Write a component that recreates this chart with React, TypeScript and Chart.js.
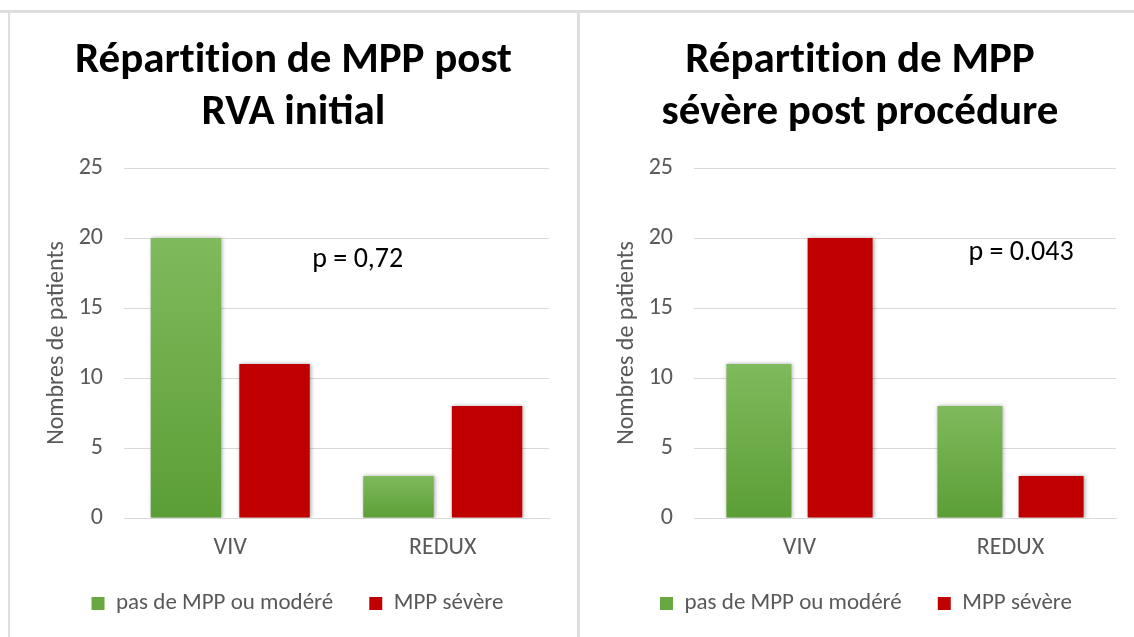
import React, { useEffect, useRef } from "react";
import { Chart, registerables } from "chart.js";

Chart.register(...registerables);

// ---- data ----
const categories = ["VIV", "REDUX"];
const seriesNames = ["pas de MPP ou modéré", "MPP sévère"];
const ZWNJ = "\u200C";
const leftTitle = [`Répar${ZWNJ}t${ZWNJ}it${ZWNJ}ion de MPP post`, "RVA initial"];
const rightTitle = [`Répar${ZWNJ}t${ZWNJ}it${ZWNJ}ion de MPP`, "sévère post procédure"];
const leftNoneOrModerate = [20, 3];
const leftSevere = [11, 8];
const rightNoneOrModerate = [11, 8];
const rightSevere = [20, 3];
const yAxisTitle = "Nombres de patients";
const yMax = 25;
const yStep = 5;
const pValueLeft = "p = 0,72";
const pValueRight = "p = 0.043";
const pPosLeft = [0.6, 18.4];
const pPosRight = [1.05, 18.9];

const FONT = "Carlito, Lato, sans-serif";
const TEXT_GRAY = "#595959";
const GREEN_TOP = "#7fba5c";
const GREEN_BOTTOM = "#5c9e36";
const RED = "#c00000";

function greenFill(ctx: any) {
  const chart = ctx.chart;
  const scales = chart.scales;
  if (!chart.chartArea || !scales || !scales.y || ctx.parsed == null) return GREEN_TOP;
  const top = scales.y.getPixelForValue(ctx.parsed.y);
  const base = scales.y.getPixelForValue(0);
  if (!isFinite(top) || !isFinite(base) || top === base) return GREEN_TOP;
  const g = chart.ctx.createLinearGradient(0, top, 0, base);
  g.addColorStop(0, GREEN_TOP);
  g.addColorStop(1, GREEN_BOTTOM);
  return g;
}

const shadowPlugin = {
  id: "barShadow",
  beforeDatasetsDraw(chart: any) {
    const c = chart.ctx;
    c.save();
    c.shadowColor = "rgba(0,0,0,0.35)";
    c.shadowBlur = 4;
    c.shadowOffsetX = 1;
    c.shadowOffsetY = 0;
  },
  afterDatasetsDraw(chart: any) {
    chart.ctx.restore();
  },
};

// centre the title over the whole panel and nudge the legend like the original layout
const centerPlugin = {
  id: "centerBlocks",
  afterLayout(chart: any, _args: any, opts: any) {
    const t = chart.titleBlock;
    if (t) {
      t.left = 0;
      t.right = chart.width;
    }
    const l = chart.legend;
    if (l && opts && opts.legendShift) {
      l.left += opts.legendShift;
      l.right += opts.legendShift;
    }
  },
};

const pValuePlugin = {
  id: "pValue",
  afterDraw(chart: any, _args: any, opts: any) {
    if (!opts || !opts.text) return;
    const c = chart.ctx;
    const x = chart.scales.x.getPixelForValue(opts.pos[0]);
    const y = chart.scales.y.getPixelForValue(opts.pos[1]);
    c.save();
    c.font = `28px ${FONT}`;
    c.fillStyle = "#000000";
    c.textAlign = "center";
    c.textBaseline = "middle";
    c.fillText(opts.text, x, y);
    c.restore();
  },
};

type PanelProps = {
  title: string[];
  none: number[];
  severe: number[];
  pText: string;
  pPos: number[];
  padRight: number;
  barPct: number;
  catPct: number;
  width: number;
};

function Panel(props: PanelProps) {
  const ref = useRef<HTMLCanvasElement | null>(null);
  useEffect(() => {
    if (!ref.current) return;
    const chart = new Chart(ref.current, {
      type: "bar",
      data: {
        labels: categories,
        datasets: [
          {
            label: seriesNames[0],
            data: props.none,
            backgroundColor: greenFill as any,
            borderWidth: 0,
            barPercentage: props.barPct,
            categoryPercentage: props.catPct,
          },
          {
            label: seriesNames[1],
            data: props.severe,
            backgroundColor: RED,
            borderWidth: 0,
            barPercentage: props.barPct,
            categoryPercentage: props.catPct,
          },
        ],
      },
      options: {
        animation: false,
        responsive: false,
        maintainAspectRatio: false,
        layout: { padding: { left: 0, right: props.padRight, top: 0, bottom: 12 } },
        plugins: {
          tooltip: { enabled: false },
          title: {
            display: true,
            text: props.title,
            color: "#000000",
            font: { family: FONT, size: 43, weight: "bold", lineHeight: 52 / 43 },
            padding: { top: 21, bottom: 29 },
          },
          legend: {
            display: true,
            position: "bottom",
            labels: {
              color: TEXT_GRAY,
              font: { family: FONT, size: 23 },
              boxWidth: 13,
              boxHeight: 13,
              padding: 36,
              generateLabels: (ch: any) =>
                ch.data.datasets.map((ds: any, i: number) => ({
                  text: ds.label,
                  fillStyle: i === 0 ? "#68a840" : RED,
                  strokeStyle: "rgba(0,0,0,0)",
                  lineWidth: 0,
                  fontColor: TEXT_GRAY,
                  datasetIndex: i,
                  hidden: false,
                })),
            },
          },
          centerBlocks: { legendShift: 18 },
          pValue: { text: props.pText, pos: props.pPos },
        } as any,
        scales: {
          x: {
            afterFit: (scale: any) => {
              scale.height = 38;
            },
            grid: { display: false, drawTicks: false },
            border: { display: true, color: "#d9d9d9", width: 1 },
            ticks: {
              color: TEXT_GRAY,
              font: { family: FONT, size: 24, lineHeight: 1.2 },
              padding: 16,
            },
          },
          y: {
            min: 0,
            max: yMax,
            afterFit: (scale: any) => {
              scale.width = 114;
            },
            grid: { color: "#d9d9d9", lineWidth: 1, drawTicks: false },
            border: { display: false },
            ticks: {
              stepSize: yStep,
              color: TEXT_GRAY,
              font: { family: FONT, size: 24 },
              padding: 21,
            },
            title: {
              display: true,
              text: yAxisTitle,
              color: TEXT_GRAY,
              font: { family: FONT, size: 24 },
              padding: { top: 33, bottom: 0 },
            },
          },
        },
      },
      plugins: [shadowPlugin, pValuePlugin, centerPlugin],
    });
    return () => chart.destroy();
  }, []);
  return <canvas ref={ref} width={props.width} height={623} />;
}

export default function App() {
  return (
    <div
      style={{
        position: "absolute",
        left: 0,
        top: 0,
        width: 1134,
        height: 637,
        background: "#ffffff",
        overflow: "hidden",
      }}
    >
      <div style={{ position: "absolute", left: 0, top: 10, width: 1134, height: 3, background: "#dedede" }} />
      <div style={{ position: "absolute", left: 8, top: 13, width: 2, height: 624, background: "#dedede" }} />
      <div style={{ position: "absolute", left: 577, top: 13, width: 3, height: 624, background: "#dedede" }} />
      <div style={{ position: "absolute", left: 10, top: 14 }}>
        <Panel
          title={leftTitle}
          none={leftNoneOrModerate}
          severe={leftSevere}
          pText={pValueLeft}
          pPos={pPosLeft}
          padRight={28}
          barPct={0.795}
          catPct={0.834}
          width={567}
        />
      </div>
      <div style={{ position: "absolute", left: 580, top: 14 }}>
        <Panel
          title={rightTitle}
          none={rightNoneOrModerate}
          severe={rightSevere}
          pText={pValueRight}
          pPos={pPosRight}
          padRight={24}
          barPct={0.8}
          catPct={0.77}
          width={560}
        />
      </div>
    </div>
  );
}
